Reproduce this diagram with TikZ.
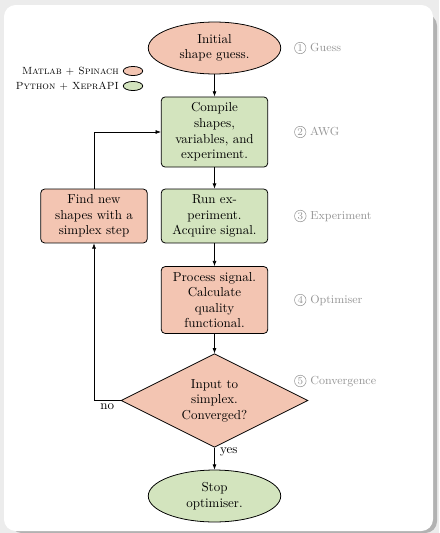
\documentclass[tikz,border=0pt]{standalone}
\usetikzlibrary{shapes.geometric,arrows.meta}

\definecolor{matlabred}{RGB}{243,197,178}
\definecolor{pythongreen}{RGB}{211,228,190}
\definecolor{stepgray}{RGB}{150,150,150}

\newcommand{\stepno}[1]{\tikz[baseline=(n.base)]\node[circle,draw,inner sep=0.7pt,font=\footnotesize](n){#1};}

\begin{document}
\begin{tikzpicture}[x=0.77pt,y=-0.77pt,
    >={Latex[length=4pt,width=3pt]},
    every node/.style={font=\normalsize},
    flowline/.style={->,line width=0.5pt},
    startstop/.style={ellipse,draw,line width=0.6pt,minimum width=102pt,minimum height=40pt,align=center,inner sep=1pt},
    procbox/.style={rectangle,rounded corners=3pt,draw,line width=0.6pt,minimum width=82pt,align=center,inner sep=3pt},
    decision/.style={diamond,draw,line width=0.6pt,aspect=2,minimum width=144pt,minimum height=72pt,align=center,inner sep=0pt},
    legendkey/.style={ellipse,draw,line width=0.6pt,minimum width=15pt,minimum height=7pt,inner sep=0pt},
    legendtext/.style={anchor=east,font=\footnotesize\scshape,inner sep=0pt},
    steplabel/.style={anchor=west,text=stepgray,font=\small,inner sep=0pt}]

  \useasboundingbox (0,0) rectangle (439,533);
  \fill [gray!15] (0,0) rectangle (439,533); % page background
  \fill [gray!60, rounded corners=9] (10,14) rectangle (437,533); % card shadow
  \fill [white, rounded corners=9] (4,5) rectangle (433,531); % card

  % flow nodes
  \node [startstop, fill=matlabred] (guess) at (214.5,48) {Initial\\shape guess.};
  \node [procbox, fill=pythongreen, minimum height=54pt] (compile) at (214.5,132) {Compile\\shapes,\\variables, and\\experiment.};
  \node [procbox, fill=pythongreen, minimum height=41.5pt] (run) at (214.5,216) {Run ex-\\periment.\\Acquire signal.};
  \node [procbox, fill=matlabred, minimum height=41.5pt] (find) at (94,216) {Find new\\shapes with a\\simplex step};
  \node [procbox, fill=matlabred, minimum height=51.5pt] (process) at (214.5,300) {Process signal.\\Calculate\\quality\\functional.};
  \node [decision, fill=matlabred] (conv) at (214.5,400.5) {Input to\\simplex.\\Converged?};
  \node [startstop, fill=pythongreen] (stop) at (214.5,496) {Stop\\optimiser.};

  % legend
  \node [legendkey, fill=matlabred] (keymatlab) at (133,71) {};
  \node [legendtext] (txtmatlab) at (119,71) {Matlab + Spinach};
  \node [legendkey, fill=pythongreen] (keypython) at (133,86) {};
  \node [legendtext] (txtpython) at (119,86) {Python + XeprAPI};

  % step labels
  \node [steplabel] (lguess) at (294,48) {\stepno{1} Guess};
  \node [steplabel] (lawg) at (294,132) {\stepno{2} AWG};
  \node [steplabel] (lexp) at (294,216) {\stepno{3} Experiment};
  \node [steplabel] (lopt) at (294,300) {\stepno{4} Optimiser};
  \node [steplabel] (lconv) at (294,381) {\stepno{5} Convergence};

  % connectors
  \draw [flowline] (guess) -- (compile);
  \draw [flowline] (compile) -- (run);
  \draw [flowline] (run) -- (process);
  \draw [flowline] (process) -- (conv);
  \draw [flowline] (conv) -- (stop) node [pos=0.2, right, inner sep=4pt] (yes) {yes};
  \draw [flowline] (conv.west) -| (find.south) node [pos=0.25, below, inner sep=2pt] (no) {no};
  \draw [flowline] (find.north) |- (compile.west);
\end{tikzpicture}
\end{document}
